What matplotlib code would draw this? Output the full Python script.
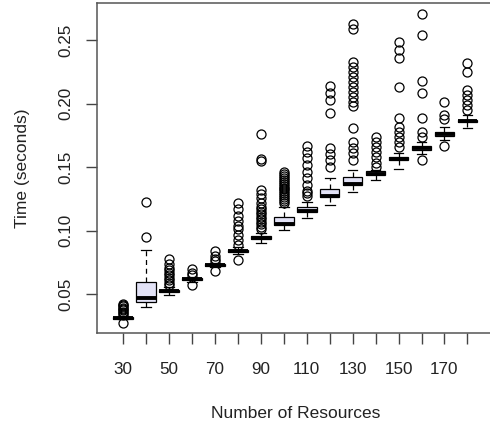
import matplotlib
matplotlib.use("Agg")
import matplotlib.pyplot as plt

plt.rcParams['font.family'] = ['Liberation Sans', 'DejaVu Sans']

resources = [30, 40, 50, 60, 70, 80, 90, 100, 110, 120, 130, 140, 150, 160, 170, 180]

medians = [0.0315, 0.0469, 0.0526, 0.0620, 0.0731, 0.0841, 0.0946, 0.1055,
           0.1155, 0.1276, 0.1365, 0.1450, 0.1565, 0.1648, 0.1762, 0.1863]
q1 = [0.0310, 0.0437, 0.0515, 0.0612, 0.0725, 0.0835, 0.0938, 0.1045,
      0.1150, 0.1268, 0.1360, 0.1438, 0.1555, 0.1635, 0.1745, 0.1855]
q3 = [0.0322, 0.0600, 0.0535, 0.0628, 0.0738, 0.0848, 0.0955, 0.1110,
      0.1190, 0.1328, 0.1420, 0.1468, 0.1580, 0.1670, 0.1778, 0.1875]
whisk_lo = [0.0305, 0.0403, 0.0495, 0.0600, 0.0715, 0.0820, 0.0900, 0.1006,
            0.1098, 0.1202, 0.1302, 0.1399, 0.1486, 0.1600, 0.1710, 0.1806]
whisk_hi = [0.0330, 0.0849, 0.0555, 0.0640, 0.0750, 0.0870, 0.0980, 0.1190,
            0.1225, 0.1412, 0.1478, 0.1480, 0.1610, 0.1700, 0.1820, 0.1910]

outliers = [
    [0.0277, 0.0340, 0.0355, 0.0365, 0.0375, 0.0385, 0.0395, 0.0405, 0.0415, 0.0425],
    [0.0953, 0.1224],
    [0.0570, 0.0590, 0.0610, 0.0630, 0.0650, 0.0670, 0.0690, 0.0710, 0.0740, 0.0778],
    [0.0573, 0.0655, 0.0670, 0.0697],
    [0.0686, 0.0765, 0.0780, 0.0800, 0.0840],
    [0.0770, 0.0890, 0.0930, 0.0970, 0.1010, 0.1040, 0.1080, 0.1120, 0.1170, 0.1216],
    [0.1010, 0.1030, 0.1050, 0.1070, 0.1090, 0.1110, 0.1130, 0.1150, 0.1170,
     0.1190, 0.1220, 0.1260, 0.1290, 0.1320, 0.1550, 0.1565, 0.1760],
    [0.1220, 0.1235, 0.1250, 0.1265, 0.1280, 0.1295, 0.1310, 0.1325, 0.1340,
     0.1355, 0.1370, 0.1385, 0.1400, 0.1415, 0.1430, 0.1445, 0.1460],
    [0.1270, 0.1295, 0.1310, 0.1360, 0.1412, 0.1464, 0.1517, 0.1570, 0.1620, 0.1668],
    [0.1500, 0.1556, 0.1600, 0.1648, 0.1924, 0.2030, 0.2080, 0.2138],
    [0.1556, 0.1610, 0.1648, 0.1700, 0.1806, 0.1980, 0.2015, 0.2054, 0.2094,
     0.2133, 0.2172, 0.2212, 0.2250, 0.2290, 0.2330, 0.2584, 0.2624],
    [0.1500, 0.1530, 0.1580, 0.1620, 0.1660, 0.1700, 0.1740],
    [0.1660, 0.1700, 0.1740, 0.1780, 0.1820, 0.1884, 0.2133, 0.2356, 0.2422, 0.2487],
    [0.1560, 0.1740, 0.1780, 0.1884, 0.2086, 0.2175, 0.2540, 0.2702],
    [0.1667, 0.1880, 0.1910, 0.2015],
    [0.1950, 0.1989, 0.2028, 0.2068, 0.2107, 0.2251, 0.2317],
]

x_labels = [str(r) if i % 2 == 0 else '' for i, r in enumerate(resources)]

fig = plt.figure(figsize=(4.9, 4.25), dpi=100)
ax = fig.add_axes([97 / 490, 1 - 333 / 425, (493.6 - 97) / 490, (333 - 3.3) / 425])

stats = []
for i in range(len(resources)):
    stats.append(dict(med=medians[i], q1=q1[i], q3=q3[i],
                      whislo=whisk_lo[i], whishi=whisk_hi[i],
                      fliers=outliers[i]))

positions = list(range(1, len(resources) + 1))
ax.bxp(stats, positions=positions, widths=0.85, capwidths=0.42,
       patch_artist=True, manage_ticks=False,
       boxprops=dict(facecolor='#E2E2F6', edgecolor='black', linewidth=0.9),
       medianprops=dict(color='black', linewidth=2.8, solid_capstyle='butt'),
       whiskerprops=dict(color='black', linewidth=0.9, linestyle=(0, (4, 3))),
       capprops=dict(color='black', linewidth=0.9),
       flierprops=dict(marker='o', markerfacecolor='none', markeredgecolor='black',
                       markersize=6.5, markeredgewidth=0.9, linestyle='none'))

ax.set_xlim(-0.14, 17.14)
ax.set_ylim(0.0196, 0.2789)
ax.set_xticks(positions)
ax.set_xticklabels(x_labels)
ax.set_yticks([0.05, 0.10, 0.15, 0.20, 0.25])
ax.set_yticklabels(['0.05', '0.10', '0.15', '0.20', '0.25'])
for lab in ax.get_yticklabels():
    lab.set_rotation(90)
    lab.set_va('center')

ax.tick_params(axis='x', length=8, width=1, color='#444444', pad=13, labelsize=12.3,
               labelcolor='#222222')
ax.tick_params(axis='y', length=8, width=1, color='#444444', pad=9, labelsize=12.3,
               labelcolor='#222222')
for s in ax.spines.values():
    s.set_color('#555555')
    s.set_linewidth(1.1)

ax.set_xlabel('Number of Resources', fontsize=12.5, color='#222222', va='center')
ax.set_ylabel('Time (seconds)', fontsize=12.5, color='#222222', va='center')
ax.xaxis.set_label_coords(0.5, -0.243)
ax.yaxis.set_label_coords(-0.189, 0.5)

fig.savefig('out.png', dpi=100)
